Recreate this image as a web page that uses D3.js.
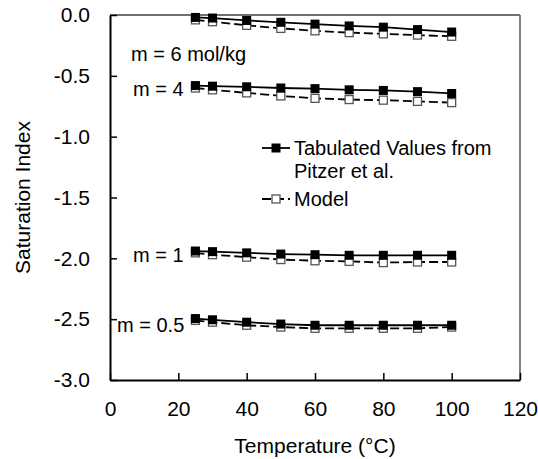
<!DOCTYPE html>
<html>
<head>
<meta charset="utf-8">
<script src="https://cdn.jsdelivr.net/npm/d3@7"></script>
<style>
  html, body { margin: 0; padding: 0; background: #fff; }
  svg { display: block; font-family: "Liberation Sans", Arial, sans-serif; }
</style>
</head>
<body>
<svg id="chart" width="538" height="459"></svg>
<script>
// ---- Data ----
const temperatures = [25, 30, 40, 50, 60, 70, 80, 90, 100];

const tab6  = [-0.02, -0.025, -0.045, -0.06, -0.075, -0.09, -0.10, -0.12, -0.14];
const mod6  = [-0.04, -0.055, -0.085, -0.11, -0.13, -0.145, -0.155, -0.165, -0.175];
const tab4  = [-0.58, -0.585, -0.59, -0.60, -0.605, -0.615, -0.62, -0.63, -0.645];
const mod4  = [-0.60, -0.615, -0.64, -0.665, -0.685, -0.695, -0.70, -0.71, -0.72];
const tab1  = [-1.94, -1.945, -1.955, -1.965, -1.97, -1.975, -1.975, -1.975, -1.975];
const mod1  = [-1.955, -1.97, -1.99, -2.01, -2.02, -2.025, -2.035, -2.03, -2.03];
const tab05 = [-2.495, -2.505, -2.525, -2.54, -2.55, -2.55, -2.55, -2.55, -2.55];
const mod05 = [-2.51, -2.525, -2.55, -2.565, -2.575, -2.575, -2.575, -2.575, -2.565];

const tabulatedSeries = [tab6, tab4, tab1, tab05];
const modelSeries = [mod6, mod4, mod1, mod05];

const seriesLabels = ["m = 6 mol/kg", "m = 4", "m = 1", "m = 0.5"];
const labelAt = [-0.32, -0.61, -1.97, -2.55]; // vertical anchor value for each label

const xTicks = [0, 20, 40, 60, 80, 100, 120];
const yTicks = [0, -0.5, -1.0, -1.5, -2.0, -2.5, -3.0];

const legendLabels = [["Tabulated Values from", "Pitzer et al."], ["Model"]];
const xTitle = "Temperature (°C)";
const yTitle = "Saturation Index";

// ---- Layout ----
const W = 538, H = 459;
const L = 110, R = 520, T = 15, B = 380;

const svg = d3.select("#chart");
const x = d3.scaleLinear().domain([0, 120]).range([L, R]);
const y = d3.scaleLinear().domain([-3, 0]).range([B, T]);

// frame (top/right in gray)
svg.append("line").attr("x1", L).attr("x2", R).attr("y1", T).attr("y2", T)
  .attr("stroke", "#707070").attr("stroke-width", 2);
svg.append("line").attr("x1", R).attr("x2", R).attr("y1", T).attr("y2", B)
  .attr("stroke", "#808080").attr("stroke-width", 2);

// axes
const xAxis = d3.axisBottom(x).tickValues(xTicks).tickSizeInner(-7).tickSizeOuter(0)
  .tickPadding(21).tickFormat(d3.format("d"));
const gx = svg.append("g").attr("transform", `translate(0,${B})`).call(xAxis);
gx.select(".domain").attr("stroke", "#000").attr("stroke-width", 2);
gx.selectAll(".tick line").attr("stroke", "#000").attr("stroke-width", 1.5);
gx.selectAll(".tick text").attr("font-size", 21).attr("fill", "#000")
  .attr("font-family", "Liberation Sans, Arial, sans-serif");

const yAxis = d3.axisLeft(y).tickValues(yTicks).tickSizeInner(-7).tickSizeOuter(0)
  .tickPadding(20).tickFormat(d => d.toFixed(1));
const gy = svg.append("g").attr("transform", `translate(${L},0)`).call(yAxis);
gy.select(".domain").attr("stroke", "#000").attr("stroke-width", 2);
gy.selectAll(".tick line").attr("stroke", "#000").attr("stroke-width", 1.5);
gy.selectAll(".tick text").attr("font-size", 21).attr("fill", "#000")
  .attr("font-family", "Liberation Sans, Arial, sans-serif");

// axis titles
svg.append("text").attr("x", (L + R) / 2).attr("y", 453).attr("text-anchor", "middle")
  .attr("font-size", 21).text(xTitle);
svg.append("text").attr("transform", `translate(30,${(T + B) / 2}) rotate(-90)`)
  .attr("text-anchor", "middle").attr("font-size", 21).text(yTitle);

const line = d3.line().x((d, i) => x(temperatures[i])).y(d => y(d));
const MS = 9;

// model series (dashed, open squares)
modelSeries.forEach(s => {
  svg.append("path").datum(s).attr("d", line).attr("fill", "none")
    .attr("stroke", "#000").attr("stroke-width", 1.8).attr("stroke-dasharray", "9,4");
  svg.selectAll(null).data(s).enter().append("rect")
    .attr("x", (d, i) => x(temperatures[i]) - MS / 2 + 0.5)
    .attr("y", d => y(d) - MS / 2 + 0.5)
    .attr("width", MS - 1).attr("height", MS - 1)
    .attr("fill", "#fff").attr("stroke", "#555").attr("stroke-width", 1.3);
});

// tabulated series (solid, filled squares)
tabulatedSeries.forEach(s => {
  svg.append("path").datum(s).attr("d", line).attr("fill", "none")
    .attr("stroke", "#000").attr("stroke-width", 1.8);
  svg.selectAll(null).data(s).enter().append("rect")
    .attr("x", (d, i) => x(temperatures[i]) - MS / 2)
    .attr("y", d => y(d) - MS / 2)
    .attr("width", MS).attr("height", MS)
    .attr("fill", "#000");
});

// series labels
const labelX = [131, 133, 133, 117];
seriesLabels.forEach((t, i) => {
  svg.append("text").attr("x", labelX[i]).attr("y", y(labelAt[i]))
    .attr("dy", "0.35em").attr("font-size", 20).text(t);
});

// legend
const lgX1 = 262, lgX2 = 290, lgM = 276;
const lgY = [148, 199];
// tabulated
svg.append("line").attr("x1", lgX1).attr("x2", lgX2).attr("y1", lgY[0]).attr("y2", lgY[0])
  .attr("stroke", "#000").attr("stroke-width", 1.8);
svg.append("rect").attr("x", lgM - MS / 2).attr("y", lgY[0] - MS / 2)
  .attr("width", MS).attr("height", MS).attr("fill", "#000");
// model
svg.append("line").attr("x1", lgX1).attr("x2", lgX2).attr("y1", lgY[1]).attr("y2", lgY[1])
  .attr("stroke", "#000").attr("stroke-width", 1.8).attr("stroke-dasharray", "9,4");
svg.append("rect").attr("x", lgM - MS / 2 + 0.5).attr("y", lgY[1] - MS / 2 + 0.5)
  .attr("width", MS - 1).attr("height", MS - 1)
  .attr("fill", "#fff").attr("stroke", "#555").attr("stroke-width", 1.3);

const lt = svg.append("text").attr("x", 294).attr("y", lgY[0]).attr("dy", "0.35em")
  .attr("font-size", 20);
legendLabels[0].forEach((s, i) => {
  lt.append("tspan").attr("x", 294).attr("dy", i === 0 ? "0.35em" : 23).text(s);
});
lt.attr("dy", null);
svg.append("text").attr("x", 294).attr("y", lgY[1]).attr("dy", "0.35em")
  .attr("font-size", 20).text(legendLabels[1][0]);
</script>
</body>
</html>
